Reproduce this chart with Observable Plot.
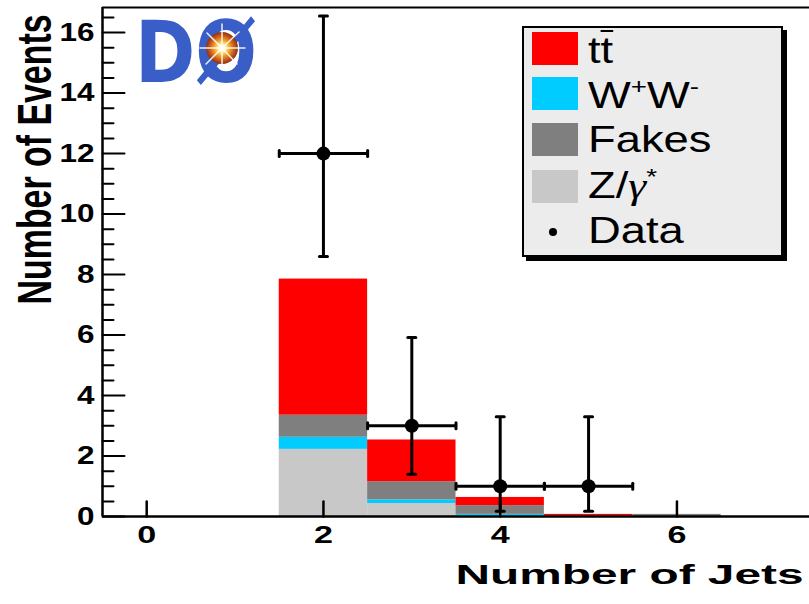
<!DOCTYPE html>
<html>
<head>
<meta charset="utf-8">
<script src="https://cdn.jsdelivr.net/npm/d3@7"></script>
<script src="https://cdn.jsdelivr.net/npm/@observablehq/plot@0.6"></script>
<style>
  html, body { margin: 0; padding: 0; background: #fff; }
  #chart { position: relative; width: 809px; height: 604px; overflow: hidden;
           font-family: "Liberation Sans", Arial, sans-serif; }
  #chart > svg.main { position: absolute; left: 0; top: 0; }
  .logo { position: absolute; left: 128px; top: 4px; overflow: visible; }
  .legend { position: absolute; left: 522px; top: 26px; width: 257px; height: 227px;
            background: #ececec; border: 2px solid #000; box-shadow: 4px 4px 0 #000; }
  .legend .sw { position: absolute; left: 8px; width: 46px; height: 33px; }
  .legend .lab { position: absolute; left: 64px; font-size: 36px; line-height: 36px;
                 white-space: nowrap; transform: scaleX(1.26); transform-origin: left center; color: #000; }
  .legend .lab sup { font-size: 22px; vertical-align: 0; position: relative; top: -14px; }
  .legend .bar { position: relative; }
  .legend .bar::before { content: ""; position: absolute; left: 0; right: 0; top: 0; height: 2px; background: #000; }
  .legend .greek { font-family: "Liberation Serif", serif; font-style: italic; }
  .legend .dot { position: absolute; left: 25px; top: 200px; width: 8px; height: 8px;
                 border-radius: 50%; background: #000; }
</style>
</head>
<body>
<div id="chart"></div>
<script>
// Jet-multiplicity bins and the stacked background expectations per bin
const jets   = [2, 3, 4, 5, 6];
const zgamma = [2.22, 0.43, 0.03, 0.00, 0.00];
const ww     = [0.40, 0.12, 0.04, 0.00, 0.00];
const fakes  = [0.73, 0.60, 0.29, 0.02, 0.07];
const ttbar  = [4.50, 1.38, 0.27, 0.05, 0.00];

// stacking order, bottom to top
const processes = ["Z/γ*", "W⁺W⁻", "Fakes", "tt̄"];
const processColors = ["#c8c8c8", "#00ccff", "#7f7f7f", "#ff0000"];

// observed events with asymmetric error bars
const dataJets    = [2, 3, 4, 5];
const dataCounts  = [12, 3, 1, 1];
const dataErrLow  = [8.6, 1.4, 0.17, 0.17];
const dataErrHigh = [16.55, 5.92, 3.3, 3.3];

// axes
const xDomain = [-0.5, 7.5];
const yDomain = [0, 16.83];
const xTicks = [0, 2, 4, 6];
const yTicks = [0, 2, 4, 6, 8, 10, 12, 14, 16];
const yMinorTicks = [0.5, 1, 1.5, 2.5, 3, 3.5, 4.5, 5, 5.5, 6.5, 7, 7.5, 8.5, 9, 9.5,
                     10.5, 11, 11.5, 12.5, 13, 13.5, 14.5, 15, 15.5, 16.5];
const xTitle = "Number of Jets";
const yTitle = "Number of Events";

// long table for the stacked histogram
const series = [zgamma, ww, fakes, ttbar];
const stackRows = [];
jets.forEach((j, i) => {
  series.forEach((vals, k) => {
    stackRows.push({lo: j - 0.5, hi: j + 0.5, process: processes[k], value: vals[i]});
  });
});

const points = dataJets.map((j, i) => ({
  jets: j, n: dataCounts[i], lo: dataErrLow[i], hi: dataErrHigh[i], left: j - 0.5, right: j + 0.5
}));
const vCaps = points.flatMap(d => [{x: d.jets, y: d.lo}, {x: d.jets, y: d.hi}]);
const hCaps = points.flatMap(d => [{x: d.left, y: d.n}, {x: d.right, y: d.n}]);

// straight segment used for tick marks and error-bar caps
const segment = {draw(context, l) { context.moveTo(0, 0); context.lineTo(0, -l); }};

const plot = Plot.plot({
  width: 809,
  height: 604,
  marginLeft: 102,
  marginRight: 0,
  marginTop: 7,
  marginBottom: 88,
  style: {background: "transparent", fontFamily: "Liberation Sans, Arial, sans-serif"},
  x: {domain: xDomain, axis: null},
  y: {domain: yDomain, axis: null},
  color: {domain: processes, range: processColors},
  marks: [
    Plot.rectY(stackRows, {x1: "lo", x2: "hi", y: "value", fill: "process"}),

    // frame lines
    Plot.ruleY([yDomain[1]], {stroke: "#000", strokeWidth: 2}),
    Plot.ruleX([xDomain[0]], {stroke: "#000", strokeWidth: 2.5}),
    Plot.ruleY([0], {stroke: "#000", strokeWidth: 2.5}),

    // inward ticks
    Plot.vector(yTicks, {y: d => d, frameAnchor: "left", rotate: 90, length: 22, anchor: "start",
                         shape: segment, stroke: "#000", strokeWidth: 2}),
    Plot.vector(yMinorTicks, {y: d => d, frameAnchor: "left", rotate: 90, length: 11, anchor: "start",
                              shape: segment, stroke: "#000", strokeWidth: 2}),
    Plot.vector(xTicks, {x: d => d, frameAnchor: "bottom", rotate: 0, length: 15, anchor: "start",
                         shape: segment, stroke: "#000", strokeWidth: 2.5}),

    // tick labels
    Plot.text(yTicks, {y: d => d, text: d => String(d), frameAnchor: "left", dx: -8, textAnchor: "end",
                       fontSize: 25, fontWeight: "bold", fill: "#000", ariaLabel: () => "y-tick-label"}),
    Plot.text(xTicks, {x: d => d, text: d => String(d), frameAnchor: "bottom", dy: 19, lineAnchor: "middle",
                       fontSize: 24, fontWeight: "bold", fill: "#000", ariaLabel: () => "x-tick-label"}),

    // axis titles
    Plot.text([xTitle], {text: d => d, frameAnchor: "bottom-right", dx: -6, dy: 67, textAnchor: "end",
                         lineAnchor: "bottom", fontSize: 27, fontWeight: "bold", fill: "#000",
                         ariaLabel: () => "x-title"}),
    Plot.text([yTitle], {text: d => d, frameAnchor: "top-left", dx: -52, dy: 7, rotate: -90, textAnchor: "end",
                         lineAnchor: "bottom", fontSize: 48, fontWeight: "bold", fill: "#000",
                         ariaLabel: () => "y-title"}),

    // data with error bars
    Plot.ruleX(points, {x: "jets", y1: "lo", y2: "hi", stroke: "#000", strokeWidth: 3}),
    Plot.ruleY(points, {y: "n", x1: "left", x2: "right", stroke: "#000", strokeWidth: 3}),
    Plot.vector(vCaps, {x: "x", y: "y", rotate: 90, length: 8, anchor: "middle", shape: segment,
                        stroke: "#000", strokeWidth: 3}),
    Plot.vector(hCaps, {x: "x", y: "y", rotate: 0, length: 6, anchor: "middle", shape: segment,
                        stroke: "#000", strokeWidth: 3}),
    Plot.dot(points, {x: "jets", y: "n", r: 7, fill: "#000"})
  ]
});
plot.classList.add("main");

const chart = document.getElementById("chart");
chart.appendChild(plot);

// the typography is wide: stretch each text run along its baseline to its drawn length
function stretch(label, lengthFn) {
  d3.select(plot).selectAll(`text[aria-label="${label}"]`).each(function () {
    const natural = this.getComputedTextLength();
    if (!natural) return;
    const s = lengthFn(this.textContent) / natural;
    const t = this.getAttribute("transform") || "";
    this.setAttribute("transform", `${t} scale(${s},1)`);
  });
}
stretch("y-tick-label", t => t.length * 17.5);
stretch("x-tick-label", t => t.length * 19);
stretch("x-title", () => 348);
stretch("y-title", () => 290);

// experiment logo
chart.insertAdjacentHTML("beforeend", `
<svg class="logo" width="150" height="90">
  <defs>
    <radialGradient id="burst" cx="50%" cy="50%" r="50%">
      <stop offset="0" stop-color="#ffffff"/>
      <stop offset="0.22" stop-color="#fff6a8"/>
      <stop offset="0.5" stop-color="#f2a126"/>
      <stop offset="0.8" stop-color="#c2521c"/>
      <stop offset="1" stop-color="#8c3212"/>
    </radialGradient>
  </defs>
  <text x="7" y="78" font-family="DejaVu Sans" font-weight="bold" font-size="86" fill="#3a5ec8"
        textLength="122" lengthAdjust="spacingAndGlyphs">DØ</text>
  <circle cx="94" cy="44" r="16" fill="url(#burst)"/>
  <g stroke="#ffffff" stroke-width="1.5" stroke-linecap="round" opacity="0.9">
    <line x1="94" y1="44" x2="94" y2="20"/>
    <line x1="94" y1="44" x2="94" y2="66"/>
    <line x1="94" y1="44" x2="72" y2="44"/>
    <line x1="94" y1="44" x2="117" y2="44"/>
    <line x1="94" y1="44" x2="111" y2="28"/>
    <line x1="94" y1="44" x2="78" y2="60"/>
    <line x1="94" y1="44" x2="79" y2="29"/>
    <line x1="94" y1="44" x2="109" y2="60"/>
  </g>
</svg>`);

// legend
chart.insertAdjacentHTML("beforeend", `
<div class="legend">
  <div class="sw" style="top:4px;background:${processColors[3]}"></div>
  <div class="lab" style="top:5px">t<span class="bar">t</span></div>
  <div class="sw" style="top:49px;background:${processColors[1]}"></div>
  <div class="lab" style="top:50px">W<sup>+</sup>W<sup>-</sup></div>
  <div class="sw" style="top:95px;background:${processColors[2]}"></div>
  <div class="lab" style="top:94px">Fakes</div>
  <div class="sw" style="top:142px;background:${processColors[0]}"></div>
  <div class="lab" style="top:140px">Z/<span class="greek">γ</span><sup>*</sup></div>
  <div class="dot"></div>
  <div class="lab" style="top:185px">Data</div>
</div>`);
</script>
</body>
</html>
